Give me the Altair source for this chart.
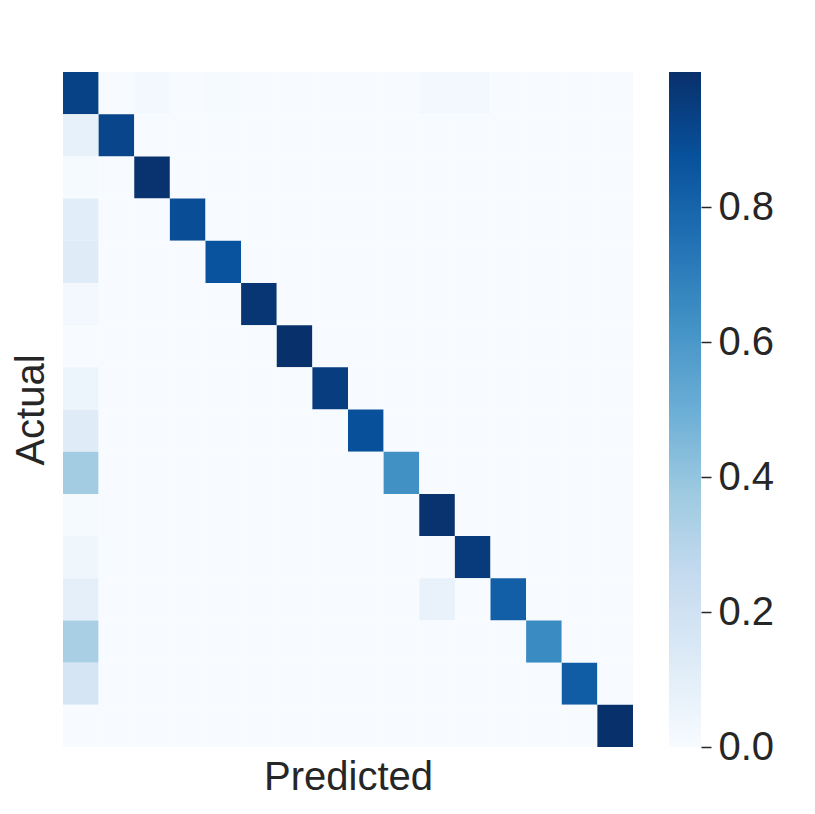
import altair as alt
import pandas as pd

# confusion matrix rows (actual class), columns = predicted class
row_00 = [0.93, 0.00, 0.02, 0.00, 0.01, 0.00, 0.00, 0.00, 0.00, 0.00, 0.02, 0.02, 0.00, 0.00, 0.00, 0.00]
row_01 = [0.08, 0.92, 0.00, 0.00, 0.00, 0.00, 0.00, 0.00, 0.00, 0.00, 0.00, 0.00, 0.00, 0.00, 0.00, 0.00]
row_02 = [0.01, 0.00, 0.99, 0.00, 0.00, 0.00, 0.00, 0.00, 0.00, 0.00, 0.00, 0.00, 0.00, 0.00, 0.00, 0.00]
row_03 = [0.11, 0.00, 0.00, 0.89, 0.00, 0.00, 0.00, 0.00, 0.00, 0.00, 0.00, 0.00, 0.00, 0.00, 0.00, 0.00]
row_04 = [0.12, 0.00, 0.00, 0.00, 0.87, 0.00, 0.00, 0.00, 0.00, 0.00, 0.00, 0.00, 0.00, 0.00, 0.00, 0.00]
row_05 = [0.02, 0.00, 0.00, 0.00, 0.00, 0.98, 0.00, 0.00, 0.00, 0.00, 0.00, 0.00, 0.00, 0.00, 0.00, 0.00]
row_06 = [0.00, 0.00, 0.00, 0.00, 0.00, 0.00, 1.00, 0.00, 0.00, 0.00, 0.00, 0.00, 0.00, 0.00, 0.00, 0.00]
row_07 = [0.05, 0.00, 0.00, 0.00, 0.00, 0.00, 0.00, 0.95, 0.00, 0.00, 0.00, 0.00, 0.00, 0.00, 0.00, 0.00]
row_08 = [0.12, 0.00, 0.00, 0.00, 0.00, 0.00, 0.00, 0.00, 0.88, 0.00, 0.00, 0.00, 0.00, 0.00, 0.00, 0.00]
row_09 = [0.36, 0.00, 0.00, 0.00, 0.00, 0.00, 0.00, 0.00, 0.00, 0.63, 0.00, 0.00, 0.00, 0.00, 0.00, 0.00]
row_10 = [0.01, 0.00, 0.00, 0.00, 0.00, 0.00, 0.00, 0.00, 0.00, 0.00, 0.99, 0.00, 0.00, 0.00, 0.00, 0.00]
row_11 = [0.04, 0.00, 0.00, 0.00, 0.00, 0.00, 0.00, 0.00, 0.00, 0.00, 0.00, 0.96, 0.00, 0.00, 0.00, 0.00]
row_12 = [0.09, 0.00, 0.00, 0.00, 0.00, 0.00, 0.00, 0.00, 0.00, 0.00, 0.07, 0.00, 0.82, 0.00, 0.00, 0.00]
row_13 = [0.34, 0.00, 0.00, 0.00, 0.00, 0.00, 0.00, 0.00, 0.00, 0.00, 0.00, 0.00, 0.00, 0.65, 0.00, 0.00]
row_14 = [0.17, 0.00, 0.00, 0.00, 0.00, 0.00, 0.00, 0.00, 0.00, 0.00, 0.00, 0.00, 0.00, 0.00, 0.83, 0.00]
row_15 = [0.00, 0.00, 0.00, 0.00, 0.00, 0.00, 0.00, 0.00, 0.00, 0.00, 0.00, 0.00, 0.00, 0.00, 0.00, 1.00]

matrix = [row_00, row_01, row_02, row_03, row_04, row_05, row_06, row_07,
          row_08, row_09, row_10, row_11, row_12, row_13, row_14, row_15]

colorbar_ticks = [0.0, 0.2, 0.4, 0.6, 0.8]
color_min = 0.0
color_max = 1.0

# matplotlib "Blues" (ColorBrewer 9) stops
blues9 = ["#f7fbff", "#deebf7", "#c6dbef", "#9ecae1", "#6baed6",
          "#4292c6", "#2171b5", "#08519c", "#08306b"]
stops = [color_min + (color_max - color_min) * i / 8 for i in range(9)]

records = []
for a, row in enumerate(matrix):
    for p, v in enumerate(row):
        records.append({"actual": a, "predicted": p, "value": v})
df = pd.DataFrame(records)

TXT = "#262626"
FONT = "Liberation Sans"

color_scale = alt.Scale(domain=stops, range=blues9, interpolate="rgb", clamp=True)

heat = alt.Chart(df).mark_rect().encode(
    x=alt.X("predicted:O", axis=alt.Axis(title="Predicted", labels=False, ticks=False,
                                         domain=False, titlePadding=10)),
    y=alt.Y("actual:O", axis=alt.Axis(title="Actual", labels=False, ticks=False,
                                      domain=False, titlePadding=12)),
    color=alt.Color("value:Q", scale=color_scale, legend=None),
).properties(width=570, height=675)

cb = pd.DataFrame({"lo": [color_min], "hi": [color_max]})
grad = alt.LinearGradient(
    gradient="linear", x1=0, x2=0, y1=1, y2=0,
    stops=[alt.GradientStop(offset=i / 8, color=c) for i, c in enumerate(blues9)],
)
colorbar = alt.Chart(cb).mark_rect(fill=grad).encode(
    x=alt.value(0), x2=alt.value("width"),
    y=alt.Y("lo:Q", scale=alt.Scale(domain=[color_min, color_max], nice=False, zero=False),
            axis=alt.Axis(orient="right", title=None, values=colorbar_ticks, format=".1f",
                          tickSize=10, tickWidth=1.5, tickColor=TXT, labelPadding=7,
                          domain=False, grid=False, labelFontSize=40, labelColor=TXT)),
    y2="hi",
).properties(width=32, height=675)

chart = alt.hconcat(heat, colorbar, spacing=36).properties(
    padding={"left": 3, "top": 64, "right": 5, "bottom": 5}
).configure(font=FONT).configure_view(stroke=None).configure_axis(
    titleFontSize=40, titleFontWeight="normal", titleColor=TXT, labelFont=FONT, titleFont=FONT
)

chart.save("out.html", embed_options={"renderer": "svg", "actions": False})
